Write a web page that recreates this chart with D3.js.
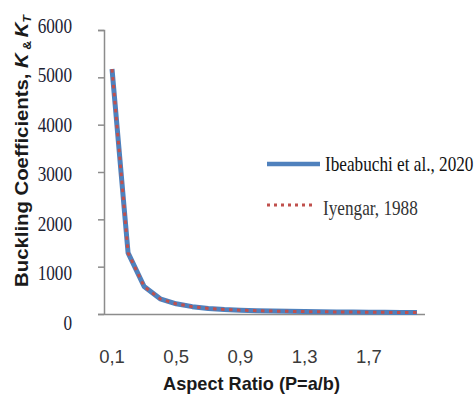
<!DOCTYPE html>
<html>
<head>
<meta charset="utf-8">
<script src="https://cdn.jsdelivr.net/npm/d3@7"></script>
<style>
  html, body { margin: 0; padding: 0; background: #fff; }
  svg { display: block; }
</style>
</head>
<body>
<svg id="chart" width="476" height="396"></svg>
<script>
// Aspect ratio categories (P = a/b)
const ratios = ["0,1","0,2","0,3","0,4","0,5","0,6","0,7","0,8","0,9","1,0",
                "1,1","1,2","1,3","1,4","1,5","1,6","1,7","1,8","1,9","2,0"];
// Buckling coefficients, present study
const ibeabuchi = [5175, 1291, 581, 320, 215, 155, 118, 95, 80, 70,
                   62, 56, 51, 47, 44, 41, 38, 35, 32, 30];
// Buckling coefficients, Iyengar (1988)
const iyengar   = [5175, 1291, 581, 320, 215, 155, 118, 95, 80, 70,
                   62, 56, 51, 47, 44, 41, 38, 35, 32, 30];
const yTicks = [0, 1000, 2000, 3000, 4000, 5000, 6000];
const xTickLabels = ["0,1", "0,5", "0,9", "1,3", "1,7"];
const seriesNames = ["Ibeabuchi et al., 2020", "Iyengar, 1988"];

const svg = d3.select("#chart");
const serif = "'Liberation Serif', 'Times New Roman', serif";
const sans = "'Liberation Sans', Arial, sans-serif";

const x = d3.scalePoint().domain(ratios).range([104, 425]).padding(0.5);
const y = d3.scaleLinear().domain([0, 6000]).range([314, 30]);
const yLab = d3.scaleLinear().domain([0, 6000]).range([322, 25.5]);

// Y axis line and ticks
const yAxis = svg.append("g")
  .attr("transform", "translate(104,0)")
  .call(d3.axisLeft(y).tickValues(yTicks).tickSize(6).tickFormat(""));
yAxis.select(".domain").attr("stroke", "#8c8c8c").attr("stroke-width", 1.5)
  .attr("d", "M-6,30.5H0.5V314.5");
yAxis.selectAll(".tick line").attr("stroke", "#8c8c8c").attr("stroke-width", 1.5);

// X axis line
const xAxis = svg.append("g")
  .attr("transform", "translate(0,314)")
  .call(d3.axisBottom(x).tickValues([]).tickSizeOuter(0));
xAxis.select(".domain").attr("stroke", "#8c8c8c").attr("stroke-width", 1.5)
  .attr("d", "M98,0.5H425");

// Y tick labels (condensed serif)
svg.append("g").selectAll("text").data(yTicks).join("text")
  .attr("transform", d => `translate(72,${yLab(d)}) scale(0.8,1)`)
  .attr("text-anchor", "end")
  .attr("dy", "0.35em")
  .attr("font-family", serif)
  .attr("font-size", 21.5)
  .attr("fill", "#1c2233")
  .text(d => d);

// X tick labels
svg.append("g").selectAll("text").data(xTickLabels).join("text")
  .attr("x", d => x(d))
  .attr("y", 363)
  .attr("text-anchor", "middle")
  .attr("font-family", sans)
  .attr("font-size", 18.5)
  .attr("fill", "#3a3a3a")
  .text(d => d);

// Series lines
const line = vals => d3.line()
  .x((d, i) => x(ratios[i]))
  .y(d => y(d))(vals);

svg.append("path")
  .attr("d", line(ibeabuchi))
  .attr("fill", "none")
  .attr("stroke", "#4f81bd")
  .attr("stroke-width", 5)
  .attr("stroke-linejoin", "round");

svg.append("path")
  .attr("d", line(iyengar))
  .attr("fill", "none")
  .attr("stroke", "#c0504d")
  .attr("stroke-width", 3)
  .attr("stroke-dasharray", "3.5,4.5");

// Legend
const lg = svg.append("g");
lg.append("line").attr("x1", 267).attr("x2", 320).attr("y1", 164).attr("y2", 164)
  .attr("stroke", "#4f81bd").attr("stroke-width", 4.5);
lg.append("line").attr("x1", 267).attr("x2", 316).attr("y1", 205).attr("y2", 205)
  .attr("stroke", "#c0504d").attr("stroke-width", 3).attr("stroke-dasharray", "3,4");
lg.append("text")
  .attr("transform", "translate(325,171) scale(0.8,1)")
  .attr("font-family", serif).attr("font-size", 21.5).attr("fill", "#111")
  .text(seriesNames[0]);
lg.append("text")
  .attr("transform", "translate(323,215) scale(0.8,1)")
  .attr("font-family", serif).attr("font-size", 21.5).attr("fill", "#333")
  .text(seriesNames[1]);

// Fit a text element to a given width around a centre point
function fitText(sel, width, cx, cy, rotate) {
  const w = sel.node().getComputedTextLength();
  const s = width / w;
  sel.attr("text-anchor", "middle")
     .attr("transform", `translate(${cx},${cy}) rotate(${rotate}) scale(${s},1)`);
}

// X axis title
const xt = svg.append("text")
  .attr("font-family", sans).attr("font-weight", "bold")
  .attr("font-size", 18).attr("fill", "#1a1a1a")
  .text("Aspect Ratio (P=a/b)");
fitText(xt, 177, 251.5, 390, 0);

// Y axis title
const yt = svg.append("text")
  .attr("font-family", sans).attr("font-weight", "bold")
  .attr("font-size", 18).attr("fill", "#1a1a1a");
yt.append("tspan").text("Buckling Coefficients, ");
yt.append("tspan").attr("font-style", "italic").text("K");
yt.append("tspan").attr("font-size", 11).attr("dy", 3).text(" & ");
yt.append("tspan").attr("font-style", "italic").attr("dy", -3).text("K");
yt.append("tspan").attr("font-size", 11).attr("font-style", "italic").attr("dy", 3).text("T");
fitText(yt, 272, 28, 151, -90);
</script>
</body>
</html>
